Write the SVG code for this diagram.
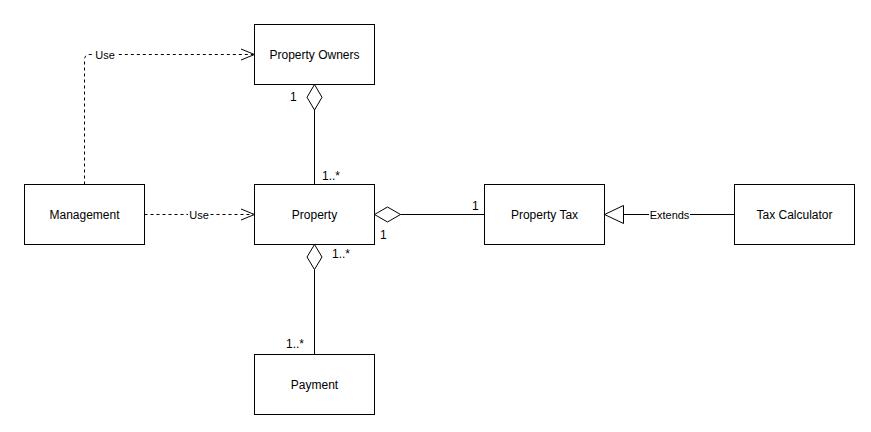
<svg xmlns="http://www.w3.org/2000/svg" width="871" height="432" viewBox="0 0 871 432">
<style>
.box{fill:#fff;stroke:#000;stroke-width:1}
.t{font-family:"Liberation Sans",Arial,sans-serif;font-size:12px;fill:#000;text-anchor:middle;dominant-baseline:central}
.lbl{font-family:"Liberation Sans",Arial,sans-serif;font-size:11px;fill:#000;text-anchor:middle;dominant-baseline:central}
.m{font-family:"Liberation Sans",Arial,sans-serif;font-size:12px;fill:#000}
.ln{fill:none;stroke:#000;stroke-width:1}
.dash{fill:none;stroke:#000;stroke-width:1;stroke-dasharray:3 3}
.hollow{fill:#fff;stroke:#000;stroke-width:1}
</style>
<rect width="871" height="432" fill="#fff"/>
<g id="connectors">
  <!-- Management -> Property Owners (Use) -->
  <path class="dash" d="M84.5 184.5 V60 Q84.5 54.5 90 54.5 H253"/>
  <path class="ln" d="M241 49 L254.5 54.5 L241 60"/>
  <rect x="94" y="47" width="22" height="14" fill="#fff"/>
  <text class="lbl" x="105" y="54.5">Use</text>
  <!-- Management -> Property (Use) -->
  <path class="dash" d="M144.5 214.5 H253"/>
  <path class="ln" d="M241 209 L254.5 214.5 L241 220"/>
  <rect x="188" y="207" width="22" height="14" fill="#fff"/>
  <text class="lbl" x="199" y="214.5">Use</text>
  <!-- Property Owners <>- Property -->
  <path class="ln" d="M314.5 110 V184.5"/>
  <path class="hollow" d="M314.5 84.5 L322 97.3 L314.5 110 L307 97.3 Z"/>
  <text class="m" x="290" y="101">1</text>
  <text class="m" x="322" y="180">1..*</text>
  <!-- Property <>- Property Tax -->
  <path class="ln" d="M400.5 214.5 H484.5"/>
  <path class="hollow" d="M374.5 214.5 L387.5 207 L400.5 214.5 L387.5 222 Z"/>
  <text class="m" x="472" y="210">1</text>
  <text class="m" x="380" y="239">1</text>
  <!-- Property <>- Payment -->
  <path class="ln" d="M314.5 269.5 V354.5"/>
  <path class="hollow" d="M314.5 244.5 L322 257 L314.5 269.5 L307 257 Z"/>
  <text class="m" x="332" y="258">1..*</text>
  <text class="m" x="286" y="348">1..*</text>
  <!-- Tax Calculator -> Property Tax (Extends) -->
  <path class="ln" d="M623.5 214.5 H734.5"/>
  <path class="hollow" d="M604.5 214.5 L623.5 205.5 L623.5 223.5 Z"/>
  <rect x="649" y="207" width="41" height="14" fill="#fff"/>
  <text class="lbl" x="669.5" y="214.5">Extends</text>
</g>
<g id="property-owners"><rect class="box" x="254.5" y="24.5" width="120" height="60"/><text class="t" x="314.5" y="54.5">Property Owners</text></g>
<g id="management"><rect class="box" x="24.5" y="184.5" width="120" height="60"/><text class="t" x="84.5" y="214.5">Management</text></g>
<g id="property"><rect class="box" x="254.5" y="184.5" width="120" height="60"/><text class="t" x="314.5" y="214.5">Property</text></g>
<g id="property-tax"><rect class="box" x="484.5" y="184.5" width="120" height="60"/><text class="t" x="544.5" y="214.5">Property Tax</text></g>
<g id="tax-calculator"><rect class="box" x="734.5" y="184.5" width="120" height="60"/><text class="t" x="794.5" y="214.5">Tax Calculator</text></g>
<g id="payment"><rect class="box" x="254.5" y="354.5" width="120" height="60"/><text class="t" x="314.5" y="384.5">Payment</text></g>
</svg>
